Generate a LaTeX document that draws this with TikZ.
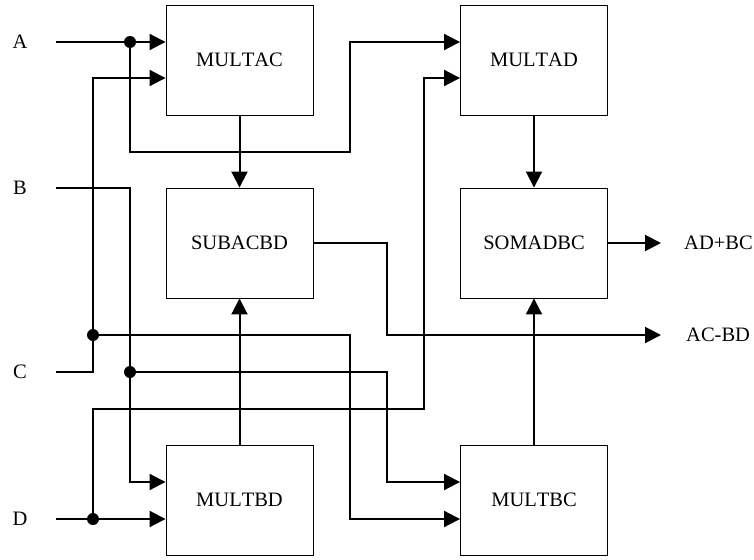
\documentclass[tikz,border=0pt]{standalone}
\usepackage{fontspec}
\setmainfont[Kerning=Off]{Liberation Serif}
\usetikzlibrary{arrows.meta,calc}
\begin{document}
\begin{tikzpicture}[x=1pt,y=-1pt,
  blk/.style={draw,line width=0.9pt,minimum width=147pt,minimum height=110pt,inner sep=0pt,font=\fontsize{20.5}{24}\selectfont},
  lbl/.style={inner sep=0pt,font=\fontsize{20.5}{24}\selectfont},
  wire/.style={line width=2pt},
  arr/.style={wire,-{Triangle[length=16pt,width=16pt]}},
  dot/.style={circle,fill=black,inner sep=0pt,minimum size=12pt}]
\useasboundingbox (0,0) rectangle (754,559);
% blocks
\node[blk] (mac) at (239.5,60) {MULTAC};
\node[blk] (mad) at (534,60) {MULTAD};
\node[blk] (sub) at (239.5,243) {SUBACBD};
\node[blk] (som) at (534,243) {SOMADBC};
\node[blk] (mbd) at (239.5,500) {MULTBD};
\node[blk] (mbc) at (534,500) {MULTBC};
% input labels
\node[lbl] (la) at (20,42) {A};
\node[lbl] (lb) at (20,188) {B};
\node[lbl] (lc) at (20,372) {C};
\node[lbl] (ld) at (20,519) {D};
% output labels
\node[lbl,anchor=west] (adbc) at (684,243) {AD+BC};
\node[lbl,anchor=west] (acbd) at (686,335) {AC-BD};
% wire start points and junctions
\coordinate (a0) at (56,42);
\coordinate (b0) at (56,188);
\coordinate (c0) at (56,372);
\coordinate (d0) at (56,519);
\coordinate (dA) at (130,42);
\coordinate (dB) at (130,372);
\coordinate (dC) at (93,335);
\coordinate (dD) at (93,519);
% A
\draw[arr] (a0) -- (a0 -| mac.west);
\draw[arr] (dA) |- (350,152) |- (mad.west |- dA);
% C
\draw[arr] (c0) -| (93,78) -- (mac.west |- 0,78);
\draw[arr] (dC) -| (350,519) -- (mbc.west |- 0,519);
% B
\draw[arr] (b0) -| (130,482) -- (mbd.west |- 0,482);
\draw[arr] (dB) -| (387,482) -- (mbc.west |- 0,482);
% D
\draw[arr] (d0) -- (d0 -| mbd.west);
\draw[arr] (dD) |- (424,409) |- (mad.west |- 0,78);
% block to block
\draw[arr] (mac.south) -- (sub.north);
\draw[arr] (mbd.north) -- (sub.south);
\draw[arr] (mad.south) -- (som.north);
\draw[arr] (mbc.north) -- (som.south);
% outputs
\draw[arr] (sub.east) -| (387,335) -- ([xshift=-25pt]acbd.west);
\draw[arr] (som.east) -- ([xshift=-23pt]adbc.west);
% dots
\node[dot] at (dA) {};
\node[dot] at (dB) {};
\node[dot] at (dC) {};
\node[dot] at (dD) {};
\end{tikzpicture}
\end{document}
